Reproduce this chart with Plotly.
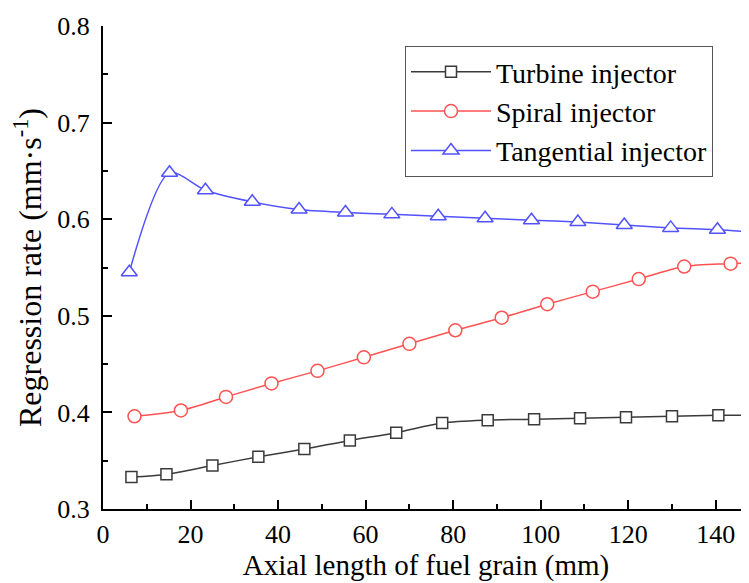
import plotly.graph_objects as go

# Axial position (mm) and regression rate (mm/s)
turbine_x = [6.5, 14.5, 25.0, 35.5, 46.0, 56.4, 67.0, 77.5, 87.9, 98.5, 109.0, 119.5, 130.0, 140.6, 151.0]
turbine_y = [0.333, 0.336, 0.345, 0.354, 0.362, 0.371, 0.379, 0.389, 0.392, 0.393, 0.394, 0.395, 0.396, 0.397, 0.397]

spiral_x = [7.2, 17.8, 28.1, 38.5, 49.0, 59.6, 70.0, 80.5, 91.1, 101.5, 111.9, 122.4, 132.8, 143.4, 153.0]
spiral_y = [0.396, 0.402, 0.416, 0.430, 0.443, 0.457, 0.471, 0.485, 0.498, 0.512, 0.525, 0.538, 0.551, 0.554, 0.556]

tangential_x = [6.0, 15.2, 23.4, 34.1, 44.8, 55.4, 66.0, 76.6, 87.3, 97.9, 108.5, 119.1, 129.7, 140.4, 151.0]
tangential_y = [0.545, 0.648, 0.630, 0.618, 0.610, 0.607, 0.605, 0.603, 0.601, 0.599, 0.597, 0.594, 0.591, 0.589, 0.586]

FONT = "Liberation Serif"

series = [
    ("Turbine injector", turbine_x, turbine_y, "#3a3a3a", "square", 11),
    ("Spiral injector", spiral_x, spiral_y, "#ff5252", "circle", 13),
    ("Tangential injector", tangential_x, tangential_y, "#5252ff", "triangle-up", 14),
]

fig = go.Figure()
for name, xs, ys, color, symbol, size in series:
    fig.add_trace(go.Scatter(
        x=xs, y=ys, name=name,
        mode="lines+markers",
        line=dict(color=color, width=1.5, shape="spline", smoothing=0.8),
        marker=dict(symbol=symbol, size=size, color="white",
                    line=dict(color=color, width=1.5)),
    ))

axis_common = dict(
    showline=True, linecolor="black", linewidth=2,
    ticks="inside", ticklen=9, tickwidth=2, tickcolor="black",
    showgrid=False, zeroline=False, automargin=False,
    tickfont=dict(family=FONT, size=26, color="black"),
    minor=dict(ticks="inside", ticklen=5, tickwidth=2, tickcolor="black"),
)

fig.update_xaxes(
    range=[0, 147.6], tickvals=[0, 20, 40, 60, 80, 100, 120, 140],
    minor_dtick=10, minor_tick0=0, ticklabelstandoff=1,
    title=dict(text="Axial length of fuel grain (mm)",
               font=dict(family=FONT, size=29, color="black"), standoff=2),
    **axis_common,
)
fig.update_yaxes(
    range=[0.3, 0.8], dtick=0.1, tickformat=".1f",
    minor_dtick=0.05, ticklabelstandoff=6,
    title=dict(text="Regression rate (mm·s<sup>-1</sup>)",
               font=dict(family=FONT, size=32, color="black"), standoff=6),
    **axis_common,
)

# page body has an 8px margin, so the figure is 8px smaller than the window
fig.update_layout(
    width=741, height=575,
    margin=dict(l=95, r=0, t=18, b=74),
    plot_bgcolor="white", paper_bgcolor="white",
    font=dict(family=FONT, color="black"),
    showlegend=True,
    legend=dict(
        x=0.4675, y=0.9586, xanchor="left", yanchor="top",
        bgcolor="white", bordercolor="#555555", borderwidth=1,
        font=dict(family=FONT, size=28, color="black"),
        itemwidth=80, tracegroupgap=0,
    ),
)

fig.write_html("out.html")
